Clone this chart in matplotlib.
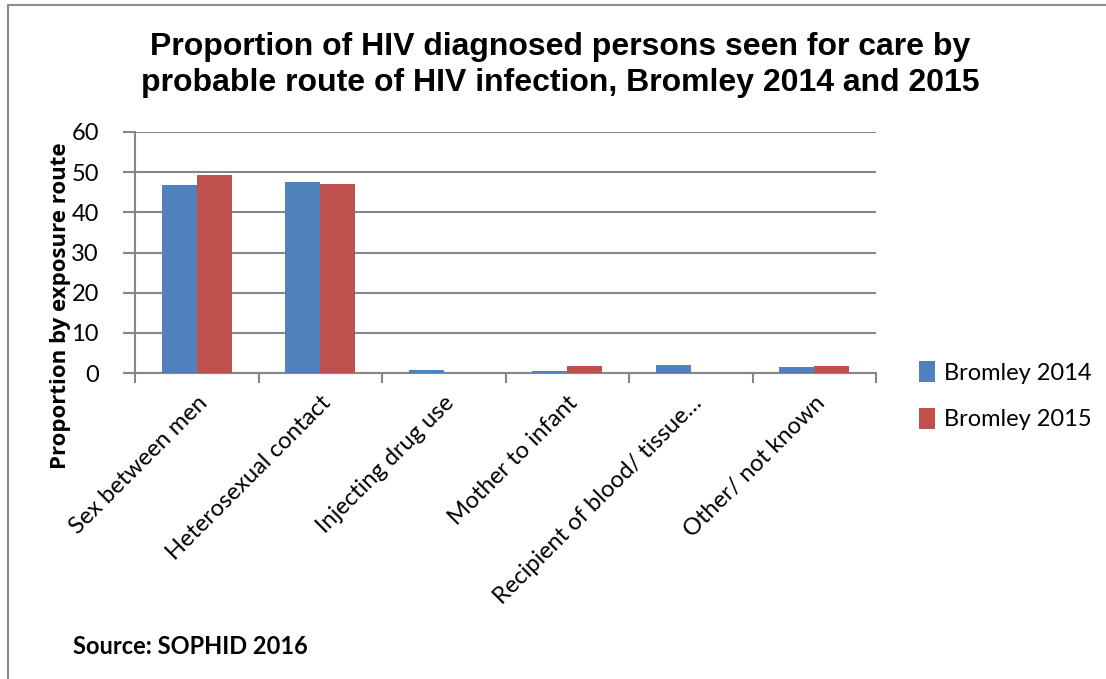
import matplotlib
matplotlib.use("Agg")
import matplotlib.pyplot as plt
import numpy as np

categories = ["Sex between men", "Heterosexual contact", "Injecting drug use",
              "Mother to infant", "Recipient of blood/ tissue\u2026", "Other/ not known"]
series_names = ["Bromley 2014", "Bromley 2015"]
values_2014 = [46.9, 47.5, 0.75, 0.6, 1.9, 1.5]
values_2015 = [49.3, 47.0, 0.0, 1.7, 0.0, 1.7]
yticks = [0, 10, 20, 30, 40, 50, 60]

W, H = 1106, 679
fig = plt.figure(figsize=(W/100, H/100), dpi=100)
ax = fig.add_axes([135/W, 1-373/H, (876-135)/W, (373-132)/H])

x = np.arange(len(categories))
bw = 0.285
c1, c2 = "#4F81BD", "#C0504D"
ax.bar(x - bw/2, values_2014, bw, color=c1, label=series_names[0], zorder=3)
ax.bar(x + bw/2, values_2015, bw, color=c2, label=series_names[1], zorder=3)

ax.set_xlim(-0.5, len(categories) - 0.5)
ax.set_ylim(0, 60)
gcol = "#868686"
ax.yaxis.grid(True, color=gcol, linewidth=1.5, zorder=0)
for s in ["top", "right"]:
    ax.spines[s].set_visible(False)
ax.spines["left"].set_color(gcol)
ax.spines["left"].set_linewidth(1.5)
ax.spines["bottom"].set_color(gcol)
ax.spines["bottom"].set_linewidth(1.5)

tickfont = "Lato"
ax.set_yticks(yticks)
ax.set_yticklabels([str(v) for v in yticks], fontsize=17, family=tickfont)
ax.tick_params(axis="y", length=9, color=gcol, width=1.5, pad=17)

# category ticks at boundaries, labels at centers
ax.set_xticks(np.arange(-0.5, len(categories)), minor=False)
ax.set_xticklabels([])
ax.set_xticks(x, minor=True)
ax.set_xticklabels(categories, minor=True, rotation=45, ha="right",
                   rotation_mode="anchor", fontsize=17, family=tickfont)
ax.tick_params(axis="x", which="major", length=7, color=gcol, width=1.5)
ax.tick_params(axis="x", which="minor", length=0, pad=14)

ax.set_ylabel("Proportion by exposure route", fontsize=16, fontweight="bold",
              family="Open Sans")
ax.yaxis.set_label_coords(-0.087, 0.28)

fig.suptitle("Proportion of HIV diagnosed persons seen for care by\nprobable route of HIV infection, Bromley 2014 and 2015",
             x=560/W, y=1-32/H, fontsize=23, fontweight="bold",
             family="Liberation Sans", linespacing=1.25, va="top")

leg = ax.legend(loc="upper left", bbox_to_anchor=(898/W, 1-340/H),
                bbox_transform=fig.transFigure, frameon=False,
                prop={"family": tickfont, "size": 17}, handlelength=0.65,
                handleheight=1.0, handletextpad=0.4, labelspacing=1.0)

fig.text(73/W, 1-647/H, "Source: SOPHID 2016", fontsize=17, fontweight="bold",
         family="Lato", va="center", ha="left")

# outer frame
fig.patches.append(plt.Rectangle((8/W, -0.01), 1.02 - 8/W, 1.01 - 5/H,
                                 transform=fig.transFigure, fill=False,
                                 edgecolor="#8c8c8c", linewidth=1.5))

fig.savefig("out.png", dpi=100)
